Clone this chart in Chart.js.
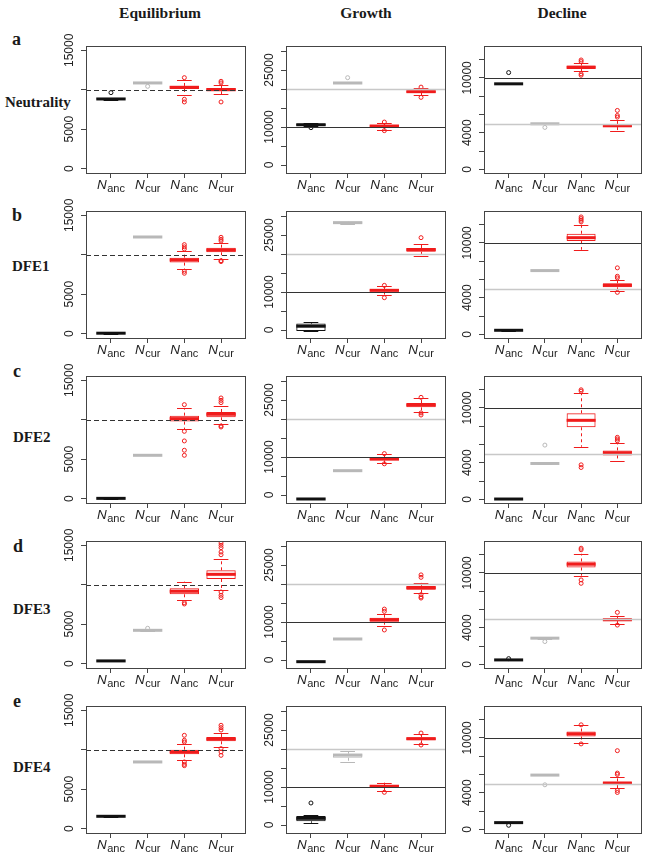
<!DOCTYPE html>
<html>
<head>
<meta charset="utf-8">
<script src="https://cdn.jsdelivr.net/npm/chart.js@4/dist/chart.umd.min.js"></script>
<style>
  body { margin: 0; background: #fff; }
  #fig { position: relative; width: 653px; height: 857px; overflow: hidden; background: #fff; }
  #fig canvas { position: absolute; }
  .lbl { position: absolute; font-family: "Liberation Serif", "Times New Roman", serif; font-weight: bold; color: #1a1a1a; white-space: nowrap; line-height: 1; }
</style>
</head>
<body>
<div id="fig"></div>
<script>
// -------- DATA --------
const scenarios = ["Equilibrium", "Growth", "Decline"];
const rowLetters = ["a", "b", "c", "d", "e"];
const models = ["Neutrality", "DFE1", "DFE2", "DFE3", "DFE4"];
const groupLabels = ["anc", "cur", "anc", "cur"]; // subscript of N

// each box: [lower whisker, Q1, median, Q3, upper whisker], rows a..e, groups N_anc, N_cur, N_anc, N_cur
const equilibriumBoxes = [
  [[8750, 8790, 8830, 8880, 8920], [10820, 10840, 10860, 10880, 10900], [9380, 10100, 10310, 10480, 11200], [9420, 9800, 10010, 10220, 10560]],
  [[0, 20, 50, 80, 100], [12220, 12240, 12250, 12270, 12290], [8150, 9000, 9340, 9630, 10430], [9420, 10310, 10600, 10900, 11530]],
  [[0, 10, 30, 60, 100], [5470, 5480, 5490, 5510, 5520], [8790, 9760, 10140, 10520, 11490], [9500, 10310, 10690, 10980, 11700]],
  [[300, 320, 340, 360, 380], [4180, 4200, 4220, 4240, 4260], [8030, 8790, 9170, 9550, 10390], [9340, 10730, 11320, 11830, 13300]],
  [[1520, 1540, 1560, 1580, 1600], [8420, 8440, 8450, 8470, 8490], [8750, 9420, 9720, 10010, 10730], [10350, 11070, 11360, 11620, 12120]]
];
const equilibriumOutliers = [
  [[9630], [10430], [11530, 8790, 8450], [11070, 10860, 8450]],
  [[], [], [11280, 11000, 10730, 7900, 7650], [12210, 11960, 11740, 9250, 9130]],
  [[], [], [11910, 8530, 7310, 6130, 5490], [12760, 12460, 12170, 9210, 9080]],
  [[], [4480], [7730, 7560], [15290, 15000, 14700, 14150, 13800, 9080, 8660, 8370]],
  [[], [], [11830, 11200, 10980, 8450, 8150, 7980], [13100, 12800, 12500, 10140, 9720, 9290]]
];

const growthBoxes = [
  [[10200, 10350, 10600, 10880, 11000], [21450, 21500, 21580, 21650, 21700], [9300, 10000, 10260, 10530, 11050], [18400, 19000, 19300, 19600, 20200]],
  [[-300, -260, 1000, 1680, 2100], [27900, 28000, 28250, 28450, 28500], [9200, 10100, 10440, 10800, 11580], [19560, 20600, 21140, 21580, 22600]],
  [[-1100, -1080, -1050, -1020, -1000], [6350, 6380, 6400, 6420, 6450], [8400, 9100, 9470, 9900, 10700], [21900, 23070, 23700, 24200, 25500]],
  [[-480, -460, -440, -420, -400], [5480, 5510, 5530, 5550, 5580], [9040, 10090, 10600, 11140, 12200], [17600, 18500, 19000, 19500, 20350]],
  [[600, 960, 1750, 2370, 2540], [16670, 17700, 18400, 18770, 19400], [9040, 9800, 10200, 10500, 11140], [21300, 22280, 22700, 23070, 23950]]
];
const growthOutliers = [
  [[9820], [22980], [11300, 9040], [20500, 17800]],
  [[], [], [11750, 8500], [24300]],
  [[], [], [10900, 8200], [25700, 21600, 21050]],
  [[], [], [13400, 12800, 7900], [22400, 21750, 17200, 16600, 16300]],
  [[5790], [], [8600], [24200, 21050]]
];

const declineBoxes = [
  [[9300, 9330, 9350, 9370, 9400], [4950, 4970, 4980, 5000, 5020], [10730, 10980, 11160, 11350, 11600], [4180, 4620, 4760, 4950, 5420]],
  [[400, 420, 440, 460, 480], [6940, 6960, 6970, 6990, 7000], [9250, 10200, 10570, 11000, 12000], [4700, 5140, 5360, 5580, 5980]],
  [[0, 10, 30, 50, 80], [3890, 3910, 3920, 3940, 3960], [5750, 7880, 8640, 9410, 11600], [4210, 4800, 5090, 5350, 6190]],
  [[440, 460, 480, 500, 520], [2780, 2820, 2860, 2900, 2940], [9700, 10590, 10950, 11250, 12090], [4400, 4730, 4870, 5020, 5310]],
  [[700, 715, 730, 745, 760], [5900, 5915, 5930, 5945, 5960], [9450, 10150, 10440, 10700, 11360], [4470, 4840, 5050, 5240, 5750]]
];
const declineOutliers = [
  [[10580], [4580], [11960, 11780, 10440, 10290], [6440, 5890, 5710]],
  [[], [], [12840, 12660, 12480, 12300], [7270, 6350, 6170, 4590]],
  [[], [5930], [11980, 11830, 3770, 3480], [6780, 6600, 6400]],
  [[620], [2490], [12700, 12530, 9230, 8860], [5680, 4290]],
  [[440], [4870], [11430, 9340], [8600, 6150, 6000, 4250, 4030]]
];

const equilibriumTicks = [0, 5000, 10000, 15000];
const equilibriumTickLabels = ["0", "5000", "", "15000"];
const growthTicks = [0, 5000, 10000, 15000, 20000, 25000, 30000];
const growthTickLabels = ["0", "", "10000", "", "", "25000", ""];
const declineTicks = [0, 2000, 4000, 6000, 8000, 10000, 12000];
const declineTickLabels = ["0", "", "4000", "", "", "10000", ""];

const equilibriumRefs = [10000];
const growthRefs = [10000, 20000];
const declineRefs = [10000, 5000];

// -------- LAYOUT / STYLE --------
const columns = [
  { boxes: equilibriumBoxes, outliers: equilibriumOutliers, ticks: equilibriumTicks, tickLabels: equilibriumTickLabels, refs: equilibriumRefs,
    refColors: ["#333"], refDash: [[5, 3]], left: 86, right: 247, yMin: -558, yMax: 15545, titleX: 160 },
  { boxes: growthBoxes, outliers: growthOutliers, ticks: growthTicks, tickLabels: growthTickLabels, refs: growthRefs,
    refColors: ["#333", "#c8c8c8"], refDash: [[], []], left: 286, right: 447, yMin: -2105, yMax: 31316, titleX: 366 },
  { boxes: declineBoxes, outliers: declineOutliers, ticks: declineTicks, tickLabels: declineTickLabels, refs: declineRefs,
    refColors: ["#333", "#c8c8c8"], refDash: [[], []], left: 484, right: 643, yMin: -404, yMax: 13488, titleX: 562 }
];
const rowTop = [46, 211, 376, 541, 706];
const boxHeight = 127;
const groupColors = ["#111111", "#b8b8b8", "#f01c1c", "#f01c1c"];
const letterBase = [45, 221, 377, 552, 707];
const letterX = [12, 12, 13, 13, 13];
const modelBase = [108, 272, 443, 615, 773];
const modelX = [5, 12, 13, 13, 13];

const PAD_L = 45, PAD_R = 4, PAD_T = 22, PAD_B = 28;
const fig = document.getElementById("fig");
const sansFont = '"Liberation Sans", Arial, sans-serif';

// -------- TEXT --------
function addLabel(text, x, baseline, size, center) {
  const d = document.createElement("div");
  d.className = "lbl";
  d.textContent = text;
  d.style.fontSize = size + "px";
  d.style.top = (baseline - 0.8375 * size) + "px";
  d.style.left = x + "px";
  if (center) d.style.transform = "translateX(-50%)";
  fig.appendChild(d);
}
scenarios.forEach((s, c) => addLabel(s, columns[c].titleX, 17.5, 15.5, true));
rowLetters.forEach((l, r) => addLabel(l, letterX[r], letterBase[r], 18, false));
models.forEach((m, r) => addLabel(m, modelX[r], modelBase[r], 15, false));

// -------- PANELS --------
function drawGroupLabel(ctx, x, y, sub) {
  const fN = "italic 13.5px " + sansFont, fS = "11px " + sansFont;
  ctx.font = fN; const wN = ctx.measureText("N").width;
  ctx.font = fS; const wS = ctx.measureText(sub).width;
  const x0 = x - (wN + wS + 0.5) / 2;
  ctx.fillStyle = "#222";
  ctx.textAlign = "left";
  ctx.textBaseline = "alphabetic";
  ctx.font = fN; ctx.fillText("N", x0, y);
  ctx.font = fS; ctx.fillText(sub, x0 + wN + 0.5, y + 3.5);
}

function makePanel(col, row) {
  const cfg = columns[col];
  const boxes = cfg.boxes[row];
  const outliers = cfg.outliers[row];
  const canvas = document.createElement("canvas");
  canvas.width = cfg.right - cfg.left + PAD_L + PAD_R;
  canvas.height = boxHeight + PAD_T + PAD_B;
  canvas.style.left = (cfg.left - PAD_L) + "px";
  canvas.style.top = (rowTop[row] - PAD_T) + "px";
  fig.appendChild(canvas);

  const boxParts = {
    id: "boxParts",
    beforeDatasetsDraw(chart) {
      // whiskers and staples
      const { ctx, chartArea, scales: { y } } = chart;
      const bars = chart.getDatasetMeta(0).data;
      ctx.save();
      ctx.beginPath(); ctx.rect(chartArea.left, chartArea.top, chartArea.width, chartArea.height); ctx.clip();
      boxes.forEach((b, i) => {
        const el = bars[i];
        const x = Math.round(el.x) + 0.5, half = el.width / 4;
        ctx.strokeStyle = groupColors[i];
        ctx.lineWidth = 1;
        ctx.setLineDash([3, 3]);
        ctx.beginPath();
        ctx.moveTo(x, y.getPixelForValue(b[3])); ctx.lineTo(x, y.getPixelForValue(b[4]));
        ctx.moveTo(x, y.getPixelForValue(b[1])); ctx.lineTo(x, y.getPixelForValue(b[0]));
        ctx.stroke();
        ctx.setLineDash([]);
        ctx.beginPath();
        [b[0], b[4]].forEach(v => {
          const py = Math.round(y.getPixelForValue(v)) + 0.5;
          ctx.moveTo(el.x - half, py); ctx.lineTo(el.x + half, py);
        });
        ctx.stroke();
      });
      ctx.restore();
    },
    afterDatasetsDraw(chart) {
      // medians, then reference lines
      const { ctx, chartArea, scales: { y } } = chart;
      const bars = chart.getDatasetMeta(0).data;
      ctx.save();
      ctx.beginPath(); ctx.rect(chartArea.left, chartArea.top, chartArea.width, chartArea.height); ctx.clip();
      boxes.forEach((b, i) => {
        const el = bars[i];
        const py = y.getPixelForValue(b[2]);
        ctx.strokeStyle = groupColors[i];
        ctx.lineWidth = 3;
        ctx.beginPath();
        ctx.moveTo(el.x - el.width / 2, py); ctx.lineTo(el.x + el.width / 2, py);
        ctx.stroke();
      });
      cfg.refs.forEach((v, k) => {
        const py = Math.round(y.getPixelForValue(v)) + 0.5;
        ctx.strokeStyle = cfg.refColors[k];
        ctx.lineWidth = k === 0 ? 1 : 1.5;
        ctx.setLineDash(cfg.refDash[k]);
        ctx.beginPath();
        ctx.moveTo(chartArea.left, py); ctx.lineTo(chartArea.right, py);
        ctx.stroke();
      });
      ctx.restore();
    },
    afterDraw(chart) {
      const { ctx, chartArea, scales: { x, y } } = chart;
      ctx.save();
      // frame
      ctx.strokeStyle = "#444";
      ctx.lineWidth = 1;
      ctx.setLineDash([]);
      ctx.strokeRect(chartArea.left + 0.5, chartArea.top + 0.5, chartArea.width - 1, chartArea.height);
      // y tick labels, rotated like R
      ctx.fillStyle = "#222";
      ctx.font = "12px " + sansFont;
      ctx.textAlign = "center";
      ctx.textBaseline = "middle";
      cfg.ticks.forEach((v, k) => {
        const txt = cfg.tickLabels[k];
        if (!txt) return;
        ctx.save();
        ctx.translate(chartArea.left - 16, y.getPixelForValue(v));
        ctx.rotate(-Math.PI / 2);
        ctx.fillText(txt, 0, 0);
        ctx.restore();
      });
      // x group labels
      groupLabels.forEach((g, i) => drawGroupLabel(ctx, x.getPixelForValue(i + 1), chartArea.bottom + 15.5, g));
      ctx.restore();
    }
  };

  new Chart(canvas, {
    type: "bar",
    data: {
      datasets: [
        {
          type: "bar",
          data: boxes.map((b, i) => ({ x: i + 1, y: [b[1], b[3]] })),
          backgroundColor: "rgba(0,0,0,0)",
          borderColor: groupColors,
          borderWidth: 1,
          borderSkipped: false,
          barPercentage: 0.8,
          categoryPercentage: 1,
          grouped: false
        },
        {
          type: "scatter",
          data: outliers.flatMap((vals, i) => vals.map(v => ({ x: i + 1, y: v }))),
          pointRadius: 2,
          pointBorderWidth: 1,
          pointBackgroundColor: "rgba(0,0,0,0)",
          pointBorderColor: ctx => (ctx.raw ? groupColors[ctx.raw.x - 1] : "#000")
        }
      ]
    },
    options: {
      responsive: false,
      animation: false,
      devicePixelRatio: 1,
      events: [],
      layout: { padding: { left: 0, top: PAD_T, right: PAD_R, bottom: 0 } },
      plugins: { legend: { display: false }, tooltip: { enabled: false } },
      scales: {
        x: {
          type: "linear", min: 0.32, max: 4.68, offset: false,
          afterBuildTicks: s => { s.ticks = groupLabels.map((g, i) => ({ value: i + 1 })); },
          afterFit: s => { s.height = PAD_B; },
          grid: { drawOnChartArea: false, drawTicks: true, tickLength: 5, color: "#444", offset: false },
          border: { display: false },
          ticks: { display: false }
        },
        y: {
          type: "linear", min: cfg.yMin, max: cfg.yMax,
          afterBuildTicks: s => { s.ticks = cfg.ticks.map(v => ({ value: v })); },
          afterFit: s => { s.width = PAD_L; },
          grid: { drawOnChartArea: false, drawTicks: true, tickLength: 5, color: "#444" },
          border: { display: false },
          ticks: { display: false }
        }
      }
    },
    plugins: [boxParts]
  });
}

// -------- INIT --------
for (let r = 0; r < rowLetters.length; r++) {
  for (let c = 0; c < columns.length; c++) makePanel(c, r);
}
</script>
</body>
</html>
